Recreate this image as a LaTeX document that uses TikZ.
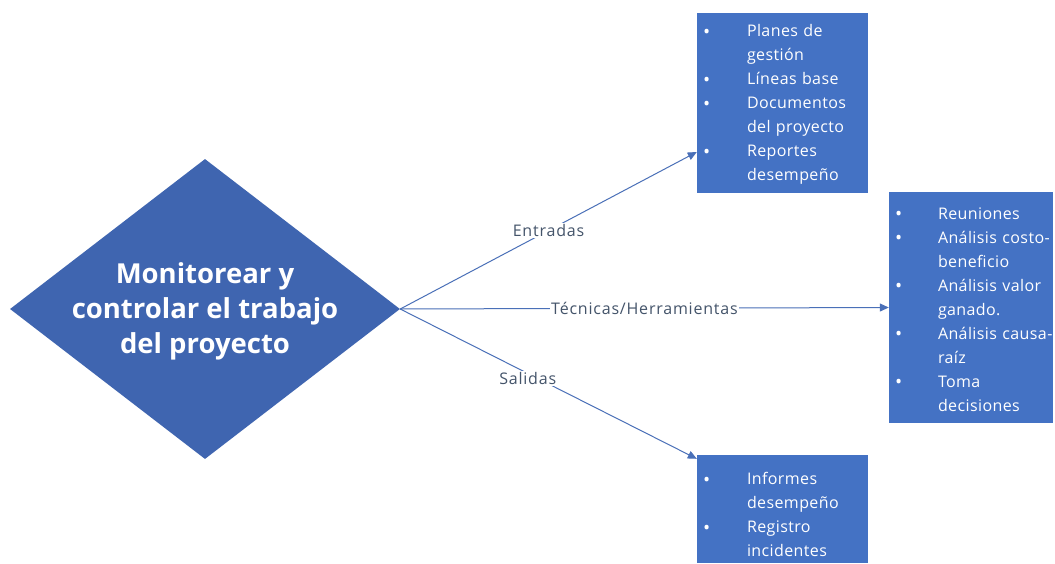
\documentclass[tikz,border=0pt]{standalone}
\usepackage{fontspec}
\setmainfont{Open Sans}[LetterSpace=2.5]
\newfontfamily\titlefont{Open Sans}
\newfontfamily\labelfont{Open Sans}[LetterSpace=5]
\usetikzlibrary{shapes.geometric,arrows.meta}
\definecolor{boxblue}{HTML}{4472C4}
\definecolor{diablue}{HTML}{3F65B0}
\definecolor{linkblue}{HTML}{4A70B8}
\definecolor{labelgray}{HTML}{44546A}
% one bullet entry: bullet near the left edge, hanging text lines
\newcommand\bitem[2][50pt]{\par\hangindent=#1\hangafter=1\noindent
  \makebox[#1][l]{\hspace{6pt}\raisebox{-1.5pt}{\fontsize{19}{24}\selectfont\textbullet}}#2}
\newcommand\nl{\break}
\tikzset{
  listbox/.style={rectangle, fill=boxblue, inner sep=0pt, text=white,
    align=left, font={\fontsize{16}{24}\selectfont}},
  conn/.style={draw=linkblue, line width=1pt,
    -{Triangle[length=9pt,width=8pt]}},
  flowlabel/.style={fill=white, text=labelgray, inner sep=1.5pt,
    font={\labelfont\fontsize{16}{18}\selectfont}},
}
\begin{document}
\begin{tikzpicture}[x=1pt,y=-1pt]
\useasboundingbox[fill=white] (0,0) rectangle (1055,563);

% central process
\node[diamond, fill=diablue, minimum width=390pt, minimum height=300pt,
  inner sep=0pt] (dia) at (205,309) {};
\node[text=white, align=center,
  font={\titlefont\bfseries\fontsize{27.5}{35}\selectfont}] (dialbl) at (205,311)
  {Monitorear y\\controlar el trabajo\\del proyecto};

% inputs
\node[listbox, minimum width=171pt, minimum height=180pt, text width=171pt]
  (top) at (782.5,103) {%
  \bitem{\mbox{Planes de}\nl\mbox{gestión}}
  \bitem{\mbox{Líneas base}}
  \bitem{\mbox{Documentos}\nl\mbox{del proyecto}}
  \bitem{\mbox{Reportes}\nl\mbox{desempeño}}
  \par\vspace*{9pt}};

% tools and techniques
\node[listbox, minimum width=164pt, minimum height=231pt, text width=164pt]
  (mid) at (971,307.5) {%
  \bitem[49pt]{\mbox{Reuniones}}
  \bitem[49pt]{\mbox{Análisis costo-}\nl\mbox{beneficio}}
  \bitem[49pt]{\mbox{Análisis valor}\nl\mbox{ganado.}}
  \bitem[49pt]{\mbox{Análisis causa-}\nl\mbox{raíz}}
  \bitem[49pt]{\mbox{Toma}\nl\mbox{decisiones}}
  \par\vspace*{8pt}};

% outputs
\node[listbox, minimum width=171pt, minimum height=108pt, text width=171pt]
  (bot) at (782.5,509) {%
  \bitem{\mbox{Informes}\nl\mbox{desempeño}}
  \bitem{\mbox{Registro}\nl\mbox{incidentes}}
  \par};

% connectors
\draw[conn] (dia.east) -- ([yshift=-49pt]top.west)
  node[flowlabel, pos=0.5] (lin) {Entradas};
\draw[conn] (dia.east) -- (mid.west)
  node[flowlabel, pos=0.5] (ltt) {Técnicas/Herramientas};
\draw[conn] (dia.east) -- ([yshift=-4pt]bot.north west)
  node[flowlabel, pos=0.43, yshift=-5pt] (lout) {Salidas};
\end{tikzpicture}
\end{document}
